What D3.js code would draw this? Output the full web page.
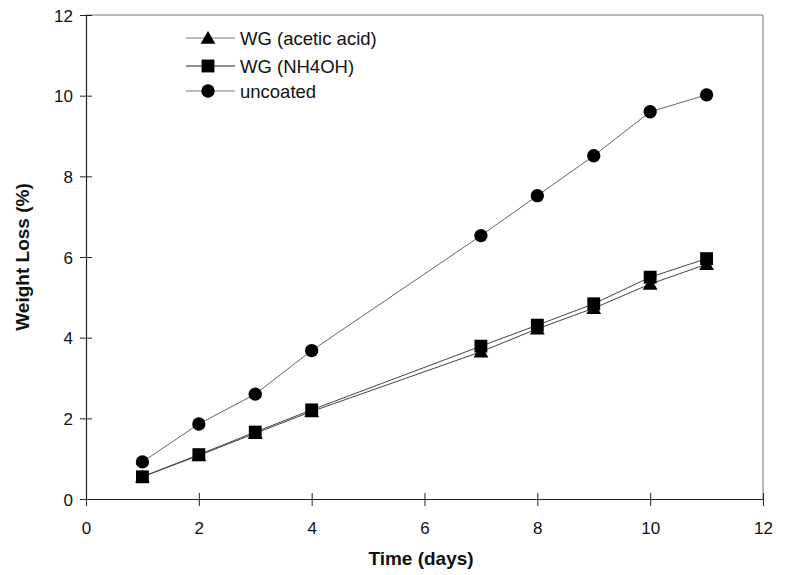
<!DOCTYPE html>
<html>
<head>
<meta charset="utf-8">
<script src="https://cdn.jsdelivr.net/npm/d3@7"></script>
<style>
  html, body { margin: 0; padding: 0; background: #fff; }
  svg { display: block; }
  text { font-family: "Liberation Sans", Arial, sans-serif; fill: #111; }
</style>
</head>
<body>
<svg id="chart" width="786" height="575"></svg>
<script>
// Weight loss over storage time
const days = [1, 2, 3, 4, 7, 8, 9, 10, 11];
const acetic = [0.55, 1.08, 1.63, 2.17, 3.65, 4.22, 4.73, 5.33, 5.82];
const nh4oh = [0.55, 1.10, 1.66, 2.21, 3.79, 4.31, 4.84, 5.50, 5.96];
const uncoated = [0.92, 1.86, 2.60, 3.68, 6.53, 7.52, 8.51, 9.60, 10.02];
const seriesNames = ["WG (acetic acid)", "WG (NH4OH)", "uncoated"];
const xTicks = [0, 2, 4, 6, 8, 10, 12];
const yTicks = [0, 2, 4, 6, 8, 10, 12];

const svg = d3.select("#chart");
const plotL = 86, plotR = 763, plotT = 15, plotB = 499;

const x = d3.scaleLinear().domain([0, 12]).range([plotL, plotR]);
const y = d3.scaleLinear().domain([0, 12]).range([plotB, plotT]);

// frame (top and right edges)
svg.append("path")
  .attr("d", `M${plotL},${plotT}H${plotR}V${plotB}`)
  .attr("fill", "none").attr("stroke", "#777").attr("stroke-width", 1);

// axes with ticks crossing the axis line
const xAxis = d3.axisBottom(x).tickValues(xTicks).tickSize(0).tickFormat(d3.format("d"));
const gx = svg.append("g").attr("transform", `translate(0,${plotB})`).call(xAxis);
gx.select(".domain").attr("stroke", "#222").attr("stroke-width", 1.2);
gx.selectAll(".tick line").attr("y1", -6).attr("y2", 7).attr("stroke", "#222");
gx.selectAll(".tick text").attr("y", 35).attr("dy", 0)
  .style("font-size", "17px").style("font-family", "Liberation Sans, Arial, sans-serif").attr("fill", "#111");

const yAxis = d3.axisLeft(y).tickValues(yTicks).tickSize(0).tickFormat(d3.format("d"));
const gy = svg.append("g").attr("transform", `translate(${plotL},0)`).call(yAxis);
gy.select(".domain").attr("stroke", "#222").attr("stroke-width", 1.2);
gy.selectAll(".tick line").attr("x1", -6).attr("x2", 6).attr("stroke", "#222");
gy.selectAll(".tick text").attr("x", -13).attr("dy", "0.36em")
  .style("font-size", "17px").style("font-family", "Liberation Sans, Arial, sans-serif").attr("fill", "#111");

// axis titles
svg.append("text").attr("x", 421).attr("y", 565).attr("text-anchor", "middle")
  .style("font-size", "19px").style("font-weight", "bold").text("Time (days)");
svg.append("text").attr("transform", `translate(29,${(plotT + plotB) / 2}) rotate(-90)`)
  .attr("text-anchor", "middle")
  .style("font-size", "19px").style("font-weight", "bold").text("Weight Loss (%)");

// marker shapes
const sym = {
  tri: d3.symbol().type(d3.symbolTriangle).size(95),
  sq: d3.symbol().type(d3.symbolSquare).size(165),
  circ: d3.symbol().type(d3.symbolCircle).size(140)
};

const series = [
  { name: seriesNames[0], values: acetic, shape: "tri", stroke: "#444" },
  { name: seriesNames[1], values: nh4oh, shape: "sq", stroke: "#444" },
  { name: seriesNames[2], values: uncoated, shape: "circ", stroke: "#666" }
];

const line = d3.line().x(d => x(d[0])).y(d => y(d[1]));

series.forEach(s => {
  const pts = days.map((d, i) => [d, s.values[i]]);
  svg.append("path").datum(pts).attr("d", line)
    .attr("fill", "none").attr("stroke", s.stroke).attr("stroke-width", 1);
});
series.forEach(s => {
  const pts = days.map((d, i) => [d, s.values[i]]);
  svg.append("g").selectAll("path").data(pts).join("path")
    .attr("transform", d => `translate(${x(d[0])},${y(d[1]) + (s.shape === "tri" ? 1.5 : 0)})`)
    .attr("d", sym[s.shape]).attr("fill", "#000");
});

// legend
const legendRows = [38, 66, 91];
series.forEach((s, i) => {
  const g = svg.append("g").attr("transform", `translate(0,${legendRows[i]})`);
  g.append("line").attr("x1", 186).attr("x2", 235).attr("y1", 0).attr("y2", 0)
    .attr("stroke", i === 1 ? "#222" : "#777").attr("stroke-width", 1);
  g.append("path").attr("transform", `translate(208,${s.shape === "tri" ? 1.5 : 0})`)
    .attr("d", sym[s.shape]).attr("fill", "#000");
  g.append("text").attr("x", 240).attr("y", 0).attr("dy", "0.36em")
    .style("font-size", "18.5px").text(s.name);
});
</script>
</body>
</html>
